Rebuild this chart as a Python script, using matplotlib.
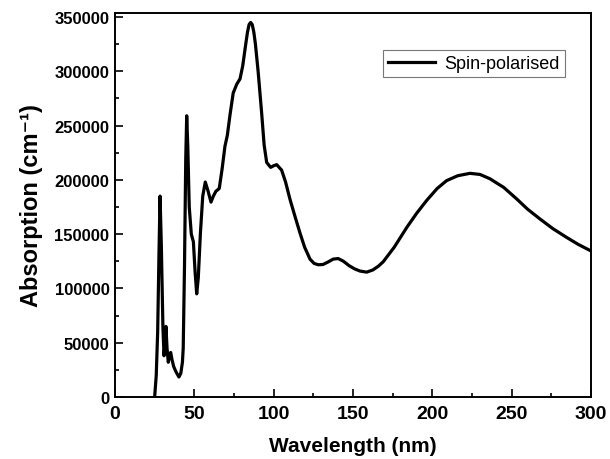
import numpy as np
import matplotlib.pyplot as plt
from matplotlib.ticker import MultipleLocator

# ── Données ────────────────────────────────────────────────
wavelength = [25.0, 26.0, 26.9, 27.7, 28.4, 29.2, 30.2, 30.9, 31.5, 32.1,
              32.8, 33.6, 34.3, 35.1, 36.0, 37.0, 38.5, 40.3, 41.5, 42.5,
              43.0, 43.8, 44.6, 45.2, 45.9, 46.8, 48.1, 49.4, 50.5, 51.5,
              52.5, 53.8, 55.3, 56.9, 58.6, 60.5, 62.0, 63.6, 65.7, 67.5,
              69.3, 70.8, 72.5, 74.5, 76.7, 78.8, 80.5, 82.5, 83.5, 84.5, 85.5,
              86.5, 87.5, 88.5, 90.2, 92.4, 94.0, 95.6, 98.1, 100.0, 101.9, 105.0,
              107.5, 110.3, 113.5, 116.6, 119.5, 122.9, 125.5, 128.1, 131.0, 134.5,
              137.5, 140.7, 144.0, 147.5, 151.0, 154.4, 158.6, 162.5, 166.0, 169.0,
              176.0, 183.8, 190.0, 196.4, 203.0, 209.0, 216.0, 223.7, 230.0, 236.3,
              245.0, 253.1, 260.0, 267.8, 276.0, 284.6, 292.0, 300.0]
absorption = [0, 20000, 60000, 130000, 185000, 140000, 65000, 38000, 48000, 65000,
              45000, 32000, 38000, 41000, 34000, 28000, 23000, 18400, 22000, 32000,
              45000, 120000, 220000, 259000, 230000, 175000, 150000, 143000, 115000, 95000,
              110000, 150000, 185000, 198000, 190000, 179500, 185000, 189500, 192000, 210000,
              231000, 241000, 260000, 280000, 288000, 293000, 305000, 326000, 336000, 343000, 345000,
              343000, 336000, 325000, 300000, 262000, 232000, 216000, 211500, 213000, 214000, 209000,
              198000, 182000, 166000, 151000, 138000, 127000, 123000, 121800, 122000, 124500,
              127000, 127500, 125000, 121000, 118000, 116000, 115000, 117000, 120500, 124500,
              138000, 156000, 169000, 181000, 192000, 199300, 203800, 206000, 205000, 201000,
              193000, 182500, 173000, 164000, 155000, 147000, 140500, 134500]

plt.rcParams['font.family'] = ['Liberation Sans', 'DejaVu Sans']

fig = plt.figure(figsize=(6.1, 4.6), dpi=100)
ax = fig.add_axes([0.1885, 0.1348, 0.7804, 0.8348])

ax.plot(wavelength, absorption, color='black', lw=2.3, label='Spin-polarised')

ax.set_xlim(0, 300)
ax.set_ylim(0, 353700)
ax.xaxis.set_major_locator(MultipleLocator(50))
ax.xaxis.set_minor_locator(MultipleLocator(25))
ax.yaxis.set_major_locator(MultipleLocator(50000))
ax.yaxis.set_minor_locator(MultipleLocator(25000))
ax.tick_params(which='both', direction='in', top=False, right=False, width=1.2)
ax.tick_params(which='major', length=6)
ax.tick_params(which='minor', length=3)
ax.tick_params(axis='x', labelsize=14, pad=6)
ax.tick_params(axis='y', labelsize=12, pad=4)
for lab in ax.get_xticklabels() + ax.get_yticklabels():
    lab.set_fontweight('bold')
for sp in ax.spines.values():
    sp.set_linewidth(1.4)

ax.set_xlabel('Wavelength (nm)', fontsize=15, fontweight='bold', labelpad=10)
ax.set_ylabel('Absorption (cm⁻¹)', fontsize=17, fontweight='bold', labelpad=8)

leg = ax.legend(loc='upper right', bbox_to_anchor=(0.964, 0.928), fontsize=13,
                frameon=True, fancybox=False, handlelength=2.6, borderpad=0.3,
                handletextpad=0.5)
leg.get_frame().set_edgecolor('#555555')
leg.get_frame().set_linewidth(0.8)

plt.savefig('out.png', dpi=100)
